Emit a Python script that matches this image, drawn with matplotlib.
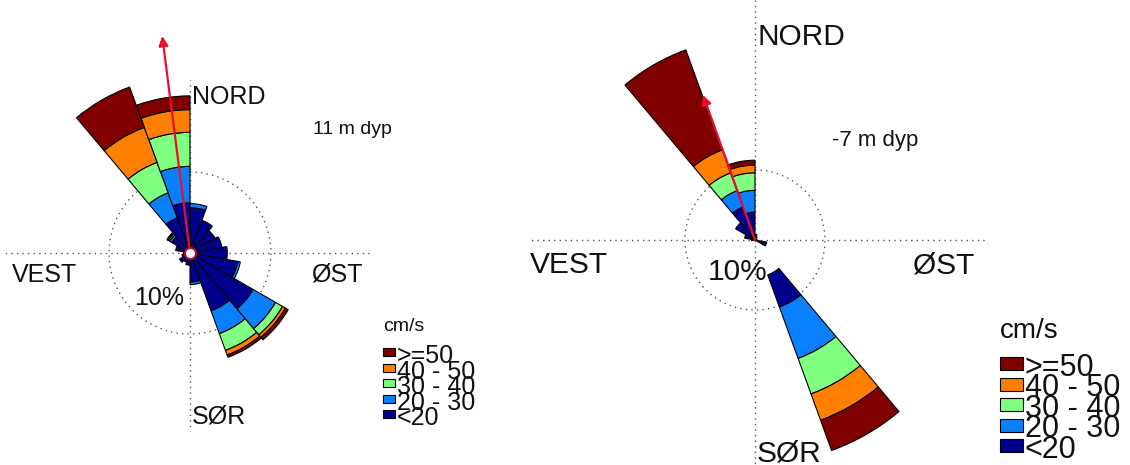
import numpy as np
import matplotlib.pyplot as plt
from matplotlib.patches import Rectangle

plt.rcParams['font.family'] = ['Liberation Sans', 'DejaVu Sans']

W, H = 1130, 465

# speed classes (cm/s), slowest first, with the jet-like colours
classes = ['<20', '20 - 30', '30 - 40', '40 - 50', '>=50']
class_colors = ['#00008c', '#0a80ff', '#80ff80', '#ff8000', '#800000']

# 20 degree direction bins, centre bearing in degrees clockwise from north
bearings = np.arange(10, 360, 20)

# left rose (11 m dyp): frequency in % per direction bin and speed class
left_lt20 = [5.6, 4.3, 3.6, 4.0, 4.6, 6.0, 9.0, 7.6, 3.6, 1.5, 1.2, 1.5, 1.0, 0.8, 1.8, 2.6, 4.6, 6.2]
left_20_30 = [0.5, 0, 0, 0, 0, 0.3, 3.2, 3.0, 0.3, 0, 0, 0, 0, 0, 0, 0.3, 3.3, 4.5]
left_30_40 = [0, 0, 0, 0, 0, 0, 1.0, 2.2, 0, 0, 0, 0, 0, 0, 0, 0.2, 4.0, 4.2]
left_40_50 = [0, 0, 0, 0, 0, 0, 0.4, 0.6, 0, 0, 0, 0, 0, 0, 0, 0.1, 4.6, 2.8]
left_ge50 = [0, 0, 0, 0, 0, 0, 0.4, 0.3, 0, 0, 0, 0, 0, 0, 0, 0.1, 5.3, 1.7]
left_gap = [0] * 18
left_mean_dir, left_mean_len = 352.7, 27.0

# right rose (-7 m dyp)
right_lt20 = [0.8, 0.5, 0, 0.3, 0, 1.7, 0, 4.9, 0, 0, 0, 0, 0, 0.5, 1.5, 3.2, 5.0, 4.0]
right_20_30 = [0, 0, 0, 0, 0, 0, 0, 7.8, 0, 0, 0, 0, 0, 0, 0, 0, 2.5, 3.1]
right_30_40 = [0, 0, 0, 0, 0, 0, 0, 5.4, 0, 0, 0, 0, 0, 0, 0, 0, 2.7, 2.5]
right_40_50 = [0, 0, 0, 0, 0, 0, 0, 4.0, 0, 0, 0, 0, 0, 0, 0, 0, 3.5, 1.1]
right_ge50 = [0, 0, 0, 0, 0, 0, 0, 4.6, 0, 0, 0, 0, 0, 0, 0, 0, 15.2, 0.7]
right_gap = [0, 0, 0, 0, 0, 0, 0, 5.3, 0, 0, 0, 0, 0, 0, 0, 0, 0, 0]
right_mean_dir, right_mean_len = 340.3, 22.0


def make_rose(cx, cy, px_per_pct, rmax):
    R = rmax * px_per_pct
    ax = fig.add_axes([(cx - R) / W, 1 - (cy + R) / H, 2 * R / W, 2 * R / H],
                      projection='polar', zorder=1)
    ax.set_theta_zero_location('N')
    ax.set_theta_direction(-1)
    ax.set_ylim(0, rmax)
    ax.grid(False)
    ax.set_xticks([])
    ax.set_yticks([])
    ax.spines['polar'].set_visible(False)
    ax.patch.set_alpha(0)
    return ax


def draw_rose(ax, series, gap, up, down, left, right):
    # dotted cross and 10 % ring
    dot = dict(color='#555555', ls=(0, (1, 3)), lw=1, zorder=0)
    ax.plot([0, 0], [0, up], **dot)
    ax.plot([np.pi, np.pi], [0, down], **dot)
    ax.plot([np.pi / 2, np.pi / 2], [0, right], **dot)
    ax.plot([3 * np.pi / 2, 3 * np.pi / 2], [0, left], **dot)
    t = np.linspace(0, 2 * np.pi, 300)
    ax.plot(t, np.full_like(t, 10), **dot)

    theta = np.deg2rad(bearings)
    bottom = np.array(gap, dtype=float)
    for vals, col in zip(series, class_colors):
        vals = np.array(vals, dtype=float)
        m = vals > 0
        ax.bar(theta[m], vals[m], width=np.deg2rad(20), bottom=bottom[m],
               color=col, edgecolor='black', lw=0.8, zorder=2)
        bottom = bottom + vals


def arrow(ax, d, length):
    ax.annotate('', xy=(np.deg2rad(d), length), xytext=(0, 0),
                arrowprops=dict(arrowstyle='-|>', color='#e8102a', lw=1.6,
                                mutation_scale=14, shrinkA=0, shrinkB=0),
                zorder=4)


def txt(x, y, s, size):
    fig.text(x / W, 1 - y / H, s, fontsize=size, va='baseline', ha='left', color='#111111')


def legend(bg, x, y_title, title_size, rows_top, sq_w, sq_h, label_size):
    txt(x, y_title, 'cm/s', title_size)
    for lab, col, top in zip(classes[::-1], class_colors[::-1], rows_top):
        bg.add_patch(Rectangle((x, top), sq_w, sq_h, facecolor=col, edgecolor='black', lw=0.8))
        fig.text((x + sq_w + 2) / W, 1 - (top + sq_h / 2 + 4) / H, lab,
                 fontsize=label_size, va='center', ha='left', color='#111111')


fig = plt.figure(figsize=(W / 100, H / 100), dpi=100)
bg = fig.add_axes([0, 0, 1, 1], zorder=0)
bg.set_xlim(0, W)
bg.set_ylim(H, 0)
bg.axis('off')

# left rose
axl = make_rose(190, 253, 8.1, 30)
draw_rose(axl, [left_lt20, left_20_30, left_30_40, left_40_50, left_ge50], left_gap,
          up=21.4, down=22.0, left=22.8, right=22.2)
arrow(axl, left_mean_dir, left_mean_len)
axl.plot([0], [0], 'o', ms=8, mfc='white', mec='#b01030', mew=1.5, zorder=5)

# right rose
axr = make_rose(755, 240, 7.0, 35)
draw_rose(axr, [right_lt20, right_20_30, right_30_40, right_40_50, right_ge50], right_gap,
          up=34.3, down=32.2, left=32.0, right=33.0)
arrow(axr, right_mean_dir, right_mean_len)

# labels left
txt(192, 104, 'NORD', 18)
txt(12, 282, 'VEST', 18)
txt(311, 282, 'ØST', 18)
txt(134, 305, '10%', 18)
txt(192, 423, 'SØR', 18)
txt(313, 134, '11 m dyp', 14)

# labels right
txt(757, 45, 'NORD', 21.5)
txt(530, 273, 'VEST', 21.5)
txt(913, 273, 'ØST', 21.5)
txt(708, 280, '10%', 21.5)
txt(757, 461, 'SØR', 21.5)
txt(832, 146, '-7 m dyp', 16)

legend(bg, 383, 331, 14, [348, 363.5, 379, 394.5, 410], 12, 8, 18)
legend(bg, 1000, 338, 20, [357, 377.5, 398, 418.5, 439], 23, 13, 22)

fig.savefig('out.png', dpi=100)
